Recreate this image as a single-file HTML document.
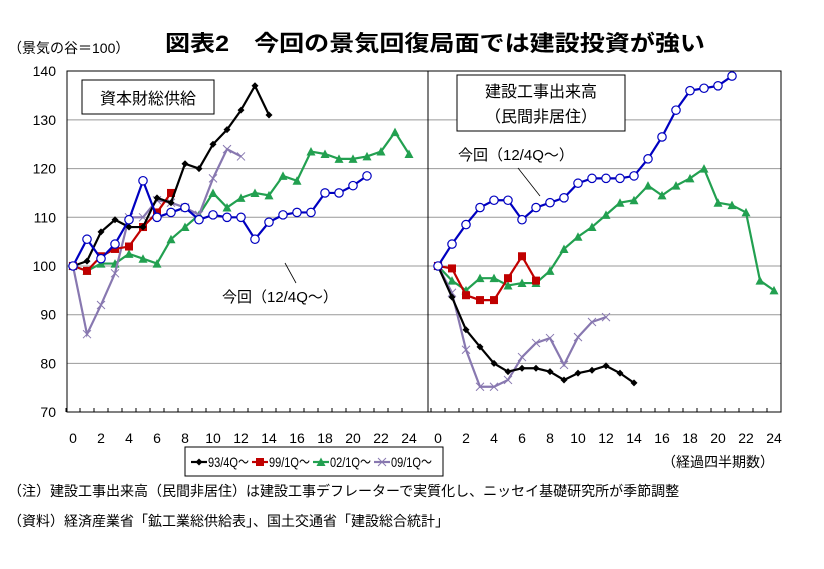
<!DOCTYPE html>
<html><head><meta charset="utf-8"><style>
body{margin:0;background:#fff;width:824px;height:564px;overflow:hidden;font-family:"Liberation Sans","Noto Sans CJK JP",sans-serif}
svg text{font-family:"Liberation Sans","Noto Sans CJK JP",sans-serif}
</style></head><body>
<svg id="chart" width="824" height="564" xmlns="http://www.w3.org/2000/svg">
<text x="435" y="51" font-size="22" font-weight="bold" text-anchor="middle" textLength="540" lengthAdjust="spacingAndGlyphs">図表2　今回の景気回復局面では建設投資が強い</text>
<text x="8" y="53" font-size="14">（景気の谷＝100）</text>
<g id="grid"></g>
<rect x="67" y="71" width="714" height="341" fill="none" stroke="#000" stroke-width="1"/>
<line x1="428" y1="71" x2="428" y2="412" stroke="#000"/>
<g id="series"></g>
<g><rect x="82" y="80" width="132" height="34" fill="#fff" stroke="#000"/><text x="148" y="104" font-size="16" text-anchor="middle">資本財総供給</text></g>
<g><rect x="457" y="75" width="168" height="56" fill="#fff" stroke="#000"/><text x="541" y="97" font-size="16" text-anchor="middle">建設工事出来高</text><text x="541" y="122" font-size="16" text-anchor="middle">（民間非居住）</text></g>
<text x="222" y="302" font-size="15">今回（12/4Q～）</text>
<line x1="296" y1="283" x2="285" y2="263" stroke="#000" stroke-width="0.8"/>
<text x="458" y="160" font-size="15">今回（12/4Q～）</text>
<line x1="518" y1="168" x2="540" y2="196" stroke="#000" stroke-width="0.8"/>
<g>
<rect x="185" y="447" width="258" height="29" fill="#fff" stroke="#000"/>
<g id="legend-items"></g>
</g>
<text x="662" y="467" font-size="14">（経過四半期数）</text>
<text x="8" y="496" font-size="14">（注）建設工事出来高（民間非居住）は建設工事デフレーターで実質化し、ニッセイ基礎研究所が季節調整</text>
<text x="8" y="526" font-size="14">（資料）経済産業省「鉱工業総供給表」、国土交通省「建設総合統計」</text>
</svg>
<script>
const yTicks=[70,80,90,100,110,120,130,140];
const xTicks=[0,2,4,6,8,10,12,14,16,18,20,22,24];
const legendLabels=["93/4Q～","99/1Q～","02/1Q～","09/1Q～"];
const leftBlack=[100,101,107,109.5,108,108,114,113,121,120,125,128,132,137,131];
const leftRed=[100,99,102,103.5,104,108,111,115];
const leftGreen=[100,99,100.5,100.5,102.5,101.5,100.5,105.5,108,110.5,115,112,114,115,114.5,118.5,117.5,123.5,123,122,122,122.5,123.5,127.5,123];
const leftPurple=[100,86,92,98.5,110,110,113.5,113,112,110.5,118,124,122.5];
const leftCurrent=[100,105.5,101.5,104.5,109.5,117.5,110,111,112,109.5,110.5,110,110,105.5,109,110.5,111,111,115,115,116.5,118.5];
const rightBlack=[100,93.6,86.9,83.4,80,78.3,79,79,78.3,76.6,78,78.6,79.5,78,76];
const rightRed=[100,99.5,94,93,93,97.5,102,97];
const rightGreen=[100,97,95,97.5,97.5,96,96.5,96.5,99,103.5,106,108,110.5,113,113.5,116.5,114.5,116.5,118,120,113,112.5,111,97,95];
const rightPurple=[100,94.5,82.8,75.2,75.2,76.6,81.3,84.2,85.2,79.7,85.4,88.5,89.5];
const rightCurrent=[100,104.5,108.5,112,113.5,113.5,109.5,112,113,114,117,118,118,118,118.5,122,126.5,132,136,136.5,137,139];

const NS="http://www.w3.org/2000/svg";
const yS=v=>266-(v-100)*4.87;
const xL=i=>73+i*14;
const xR=i=>438+i*14;
function mk(t,a,p){const e=document.createElementNS(NS,t);for(const k in a)e.setAttribute(k,a[k]);p.appendChild(e);return e;}
const grid=document.getElementById('grid');
yTicks.forEach(v=>{
 if(v>70&&v<140){const l=mk('line',{x1:67,x2:781,y1:yS(v),y2:yS(v),stroke:'#999','stroke-width':1},grid);
 
 }
 const t=mk('text',{x:56,y:yS(v)+5,'font-size':14,'text-anchor':'end'},grid);t.textContent=v;
 
 
});
for(let i=0;i<=24;i++){[xL,xR].forEach(f=>{mk('line',{x1:f(i)-7,x2:f(i)-7,y1:412,y2:408,stroke:'#000'},grid);});}
xTicks.forEach(v=>{[xL,xR].forEach(f=>{const t=mk('text',{x:f(v),y:443,'font-size':14,'text-anchor':'middle'},grid);t.textContent=v;
 
 });});
const sg=document.getElementById('series');
function marker(type,x,y,c,g){
 if(type==='d')mk('path',{d:`M${x-3.5},${y}L${x},${y-3.5}L${x+3.5},${y}L${x},${y+3.5}Z`,fill:c},g);
 else if(type==='s')mk('rect',{x:x-4,y:y-4,width:8,height:8,fill:c},g);
 else if(type==='t')mk('path',{d:`M${x-4.5},${y+4}L${x},${y-4.5}L${x+4.5},${y+4}Z`,fill:c},g);
 else if(type==='x')mk('path',{d:`M${x-4},${y-4}L${x+4},${y+4}M${x-4},${y+4}L${x+4},${y-4}`,stroke:c,'stroke-width':1},g);
 else if(type==='o')mk('circle',{cx:x,cy:y,r:4.2,fill:'#fff',stroke:c,'stroke-width':1.2},g);
}
function draw(arr,xf,c,type,name){
 const g=mk('g',{},sg);
 
 
 mk('polyline',{points:arr.map((v,i)=>xf(i)+','+yS(v)).join(' '),fill:'none',stroke:c,'stroke-width':2.2},g);
 arr.forEach((v,i)=>marker(type,xf(i),yS(v),c,g));
}
draw(leftGreen,xL,'#22a050','t','left-series-02-1q');
draw(leftPurple,xL,'#8878b0','x','left-series-09-1q');
draw(leftRed,xL,'#c00000','s','left-series-99-1q');
draw(leftBlack,xL,'#000','d','left-series-93-4q');
draw(leftCurrent,xL,'#0000c0','o','left-series-current');
draw(rightGreen,xR,'#22a050','t','right-series-02-1q');
draw(rightPurple,xR,'#8878b0','x','right-series-09-1q');
draw(rightRed,xR,'#c00000','s','right-series-99-1q');
draw(rightBlack,xR,'#000','d','right-series-93-4q');
draw(rightCurrent,xR,'#0000c0','o','right-series-current');
const lg=document.getElementById('legend-items');
const lc=['#000','#c00000','#22a050','#8878b0'],lt=['d','s','t','x'];
legendLabels.forEach((s,i)=>{
 const x=191+i*61;
 const g=mk('g',{},lg);
 
 
 mk('line',{x1:x,x2:x+16,y1:462,y2:462,stroke:lc[i],'stroke-width':2.2},g);
 marker(lt[i],x+8,462,lc[i],g);
 const t=mk('text',{x:x+17,y:467,'font-size':14,textLength:41,lengthAdjust:'spacingAndGlyphs'},g);t.textContent=s;
});
</script>
</body></html>
